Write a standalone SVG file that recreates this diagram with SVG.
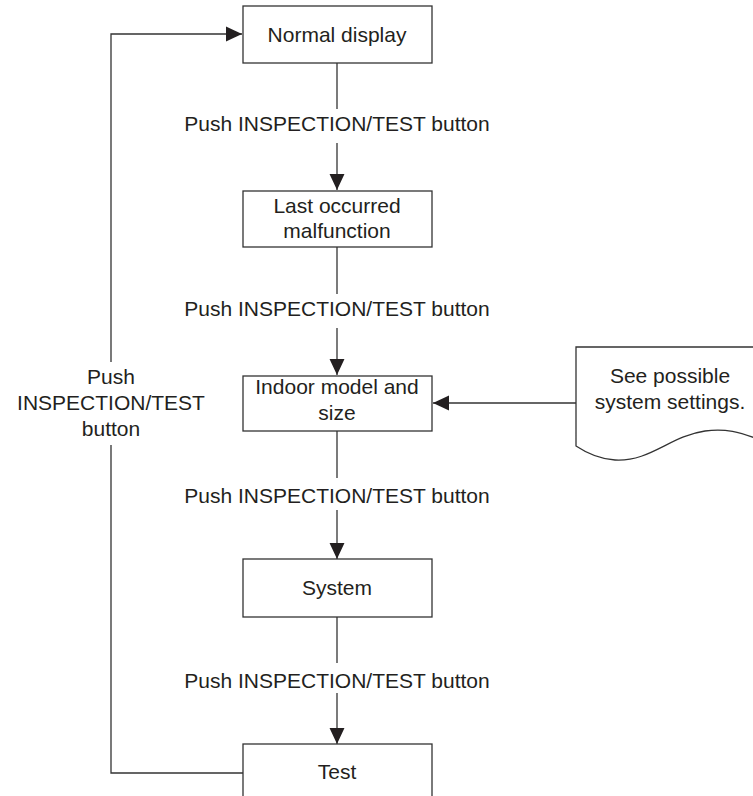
<svg xmlns="http://www.w3.org/2000/svg" width="753" height="796" viewBox="0 0 753 796">
<style>
.box{fill:#fff;stroke:#333;stroke-width:1.3}
.ln{fill:none;stroke:#333;stroke-width:1.3}
.t{font-family:"Liberation Sans",Arial,Helvetica,sans-serif;font-size:21px;fill:#231f20;text-anchor:middle}
</style>
<defs>
<marker id="ah" markerUnits="userSpaceOnUse" markerWidth="16" markerHeight="16" viewBox="0 0 15 14" refX="15" refY="7" orient="auto">
<path d="M0,0 L15,7 L0,14 Z" fill="#231f20"/>
</marker>
</defs>
<rect width="753" height="796" fill="#fff"/>
<g id="connectors">
<path class="ln" d="M337,63 V109"/>
<path class="ln" d="M337,143 V190" marker-end="url(#ah)"/>
<path class="ln" d="M337,247 V294"/>
<path class="ln" d="M337,328 V375" marker-end="url(#ah)"/>
<path class="ln" d="M337,431 V478"/>
<path class="ln" d="M337,510 V559" marker-end="url(#ah)"/>
<path class="ln" d="M337,617 V663"/>
<path class="ln" d="M337,693 V744" marker-end="url(#ah)"/>
<path class="ln" d="M243,773 H111 V445"/>
<path class="ln" d="M111,362 V34 H242" marker-end="url(#ah)"/>
<path class="ln" d="M576,403 H433" marker-end="url(#ah)"/>
<text class="t" x="337" y="131">Push INSPECTION/TEST button</text>
<text class="t" x="337" y="316">Push INSPECTION/TEST button</text>
<text class="t" x="337" y="503">Push INSPECTION/TEST button</text>
<text class="t" x="337" y="688">Push INSPECTION/TEST button</text>
<text class="t" x="111" y="384">Push</text>
<text class="t" x="111" y="410">INSPECTION/TEST</text>
<text class="t" x="111" y="436">button</text>
</g>
<g id="normal">
<rect class="box" x="243" y="6" width="189" height="57"/>
<text class="t" x="337" y="42">Normal display</text>
</g>
<g id="last">
<rect class="box" x="243" y="191" width="189" height="56"/>
<text class="t" x="337" y="213">Last occurred</text>
<text class="t" x="337" y="238">malfunction</text>
</g>
<g id="indoor">
<rect class="box" x="243" y="376" width="189" height="55"/>
<text class="t" x="337" y="394">Indoor model and</text>
<text class="t" x="337" y="420">size</text>
</g>
<g id="system">
<rect class="box" x="243" y="559" width="189" height="58"/>
<text class="t" x="337" y="595">System</text>
</g>
<g id="test">
<rect class="box" x="243" y="744" width="189" height="70"/>
<text class="t" x="337" y="779">Test</text>
</g>
<g id="document">
<path d="M576,347 H760 V440 C740,432 725,428 705,431 C670,436 650,462 615,460 C598,459 585,452 576,446 Z" fill="#fff"/>
<path class="ln" d="M760,347 H576 V446 C585,452 598,459 615,460 C650,462 670,436 705,431 C725,428 740,432 760,440"/>
<text class="t" x="670" y="383">See possible</text>
<text class="t" x="670" y="409">system settings.</text>
</g>
</svg>
